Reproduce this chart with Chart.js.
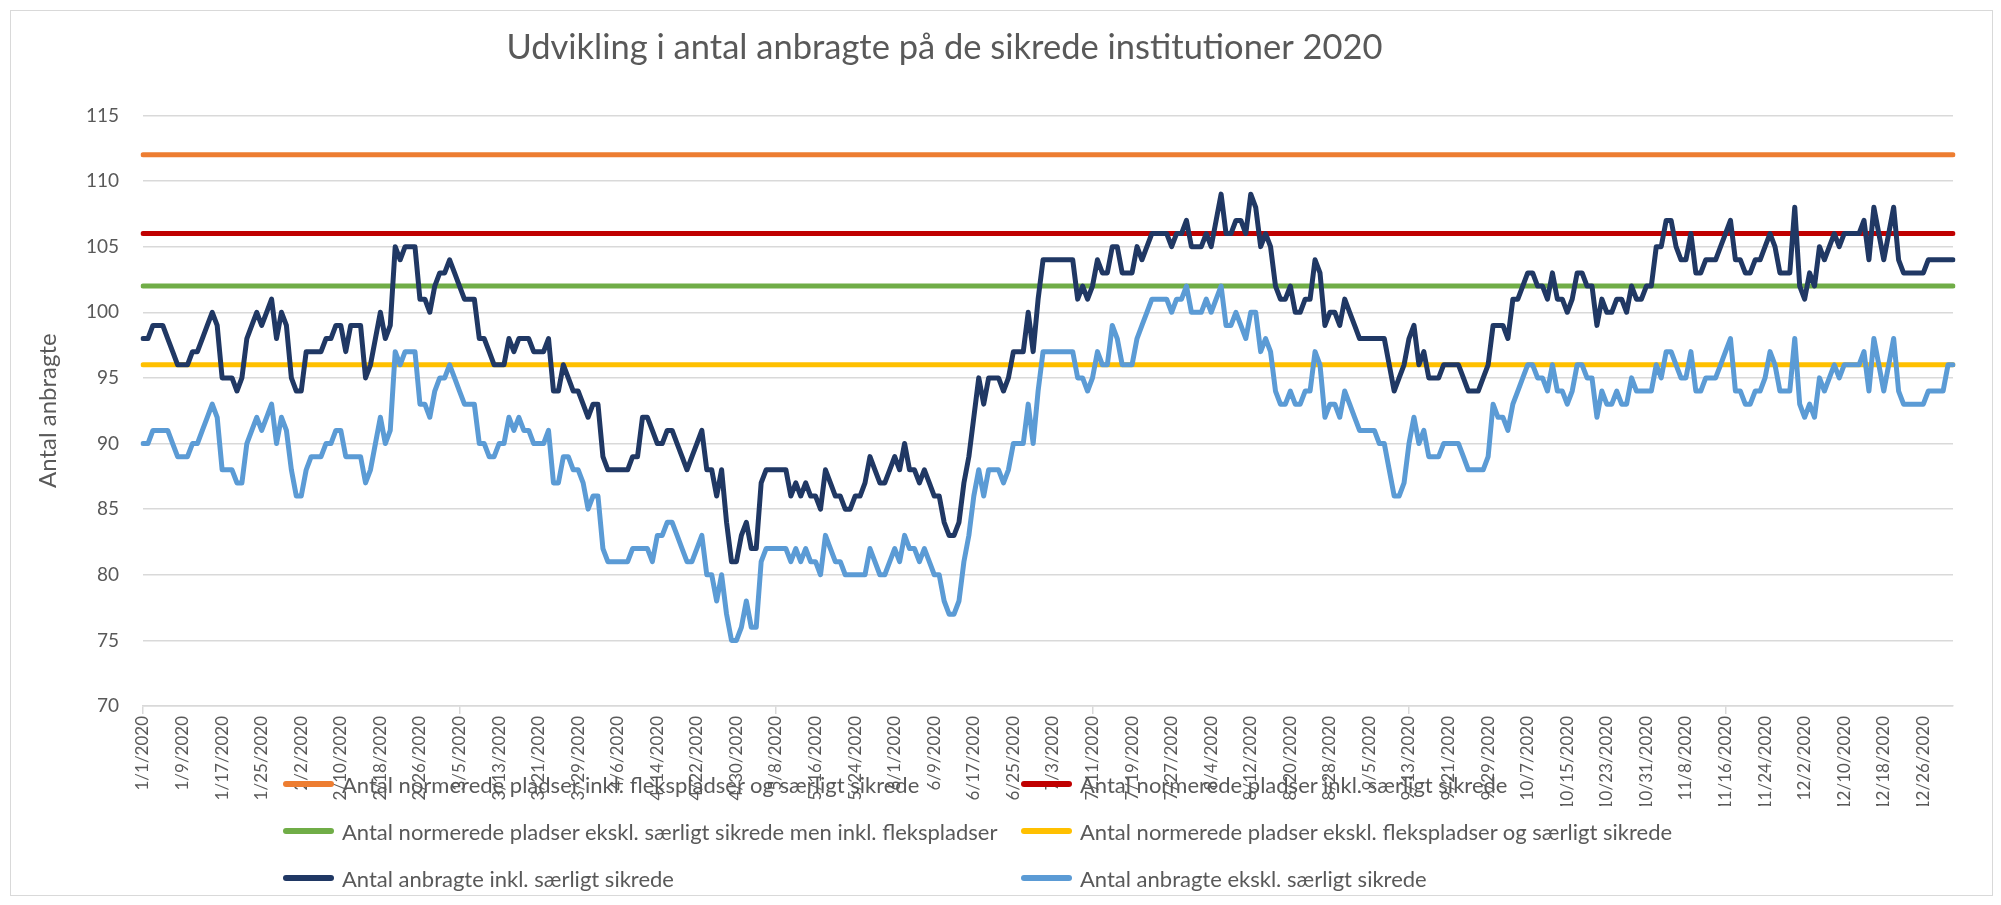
<!DOCTYPE html>
<html lang="da">
<head>
<meta charset="utf-8">
<title>Udvikling i antal anbragte 2020</title>
<script src="https://cdn.jsdelivr.net/npm/chart.js@4.4.1/dist/chart.umd.min.js"></script>
<style>
    body { margin: 0; background: #fff; }
    #wrap { position: relative; width: 2001px; height: 905px; }
    #frame { position: absolute; left: 10px; top: 10px; width: 1981px; height: 884px; border: 1px solid #d9d9d9; pointer-events: none; }
    .legend-item { position: absolute; display: flex; align-items: center; height: 28px; font: 22px Lato, sans-serif; color: #595959; white-space: nowrap; }
    .legend-swatch { width: 51px; height: 6px; border-radius: 3px; margin-right: 8px; }
</style>
</head>
<body>
<div id="wrap">
    <canvas id="chart" width="2001" height="905"></canvas>
    <div id="frame"></div>
    <div id="legend"></div>
</div>
<script>
// Daily categories: 1/1/2020 .. 1/1/2021
const dates = [];
for (let i = 0; i < 367; i++) {
    const d = new Date(2020, 0, 1 + i);
    dates.push((d.getMonth() + 1) + '/' + d.getDate() + '/' + d.getFullYear());
}

// Normerede pladser (capacity lines)
const capacityLabels = [
    'Antal normerede pladser inkl. flekspladser og særligt sikrede',
    'Antal normerede pladser inkl. særligt sikrede',
    'Antal normerede pladser ekskl. særligt sikrede men inkl. flekspladser',
    'Antal normerede pladser ekskl. flekspladser og særligt sikrede'
];
const capacityValues = [112, 106, 102, 96];
const capacityColors = ['#ED7D31', '#C00000', '#70AD47', '#FFC000'];

// Antal anbragte inkl. særligt sikrede
const anbragteInkl = [
    98, 98, 99, 99, 99, 98, 97, 96, 96, 96,
    97, 97, 98, 99, 100, 99, 95, 95, 95, 94,
    95, 98, 99, 100, 99, 100, 101, 98, 100, 99,
    95, 94, 94, 97, 97, 97, 97, 98, 98, 99,
    99, 97, 99, 99, 99, 95, 96, 98, 100, 98,
    99, 105, 104, 105, 105, 105, 101, 101, 100, 102,
    103, 103, 104, 103, 102, 101, 101, 101, 98, 98,
    97, 96, 96, 96, 98, 97, 98, 98, 98, 97,
    97, 97, 98, 94, 94, 96, 95, 94, 94, 93,
    92, 93, 93, 89, 88, 88, 88, 88, 88, 89,
    89, 92, 92, 91, 90, 90, 91, 91, 90, 89,
    88, 89, 90, 91, 88, 88, 86, 88, 84, 81,
    81, 83, 84, 82, 82, 87, 88, 88, 88, 88,
    88, 86, 87, 86, 87, 86, 86, 85, 88, 87,
    86, 86, 85, 85, 86, 86, 87, 89, 88, 87,
    87, 88, 89, 88, 90, 88, 88, 87, 88, 87,
    86, 86, 84, 83, 83, 84, 87, 89, 92, 95,
    93, 95, 95, 95, 94, 95, 97, 97, 97, 100,
    97, 101, 104, 104, 104, 104, 104, 104, 104, 101,
    102, 101, 102, 104, 103, 103, 105, 105, 103, 103,
    103, 105, 104, 105, 106, 106, 106, 106, 105, 106,
    106, 107, 105, 105, 105, 106, 105, 107, 109, 106,
    106, 107, 107, 106, 109, 108, 105, 106, 105, 102,
    101, 101, 102, 100, 100, 101, 101, 104, 103, 99,
    100, 100, 99, 101, 100, 99, 98, 98, 98, 98,
    98, 98, 96, 94, 95, 96, 98, 99, 96, 97,
    95, 95, 95, 96, 96, 96, 96, 95, 94, 94,
    94, 95, 96, 99, 99, 99, 98, 101, 101, 102,
    103, 103, 102, 102, 101, 103, 101, 101, 100, 101,
    103, 103, 102, 102, 99, 101, 100, 100, 101, 101,
    100, 102, 101, 101, 102, 102, 105, 105, 107, 107,
    105, 104, 104, 106, 103, 103, 104, 104, 104, 105,
    106, 107, 104, 104, 103, 103, 104, 104, 105, 106,
    105, 103, 103, 103, 108, 102, 101, 103, 102, 105,
    104, 105, 106, 105, 106, 106, 106, 106, 107, 104,
    108, 106, 104, 106, 108, 104, 103, 103, 103, 103,
    103, 104, 104, 104, 104, 104, 104
];

// Antal anbragte ekskl. særligt sikrede
const anbragteEkskl = [
    90, 90, 91, 91, 91, 91, 90, 89, 89, 89,
    90, 90, 91, 92, 93, 92, 88, 88, 88, 87,
    87, 90, 91, 92, 91, 92, 93, 90, 92, 91,
    88, 86, 86, 88, 89, 89, 89, 90, 90, 91,
    91, 89, 89, 89, 89, 87, 88, 90, 92, 90,
    91, 97, 96, 97, 97, 97, 93, 93, 92, 94,
    95, 95, 96, 95, 94, 93, 93, 93, 90, 90,
    89, 89, 90, 90, 92, 91, 92, 91, 91, 90,
    90, 90, 91, 87, 87, 89, 89, 88, 88, 87,
    85, 86, 86, 82, 81, 81, 81, 81, 81, 82,
    82, 82, 82, 81, 83, 83, 84, 84, 83, 82,
    81, 81, 82, 83, 80, 80, 78, 80, 77, 75,
    75, 76, 78, 76, 76, 81, 82, 82, 82, 82,
    82, 81, 82, 81, 82, 81, 81, 80, 83, 82,
    81, 81, 80, 80, 80, 80, 80, 82, 81, 80,
    80, 81, 82, 81, 83, 82, 82, 81, 82, 81,
    80, 80, 78, 77, 77, 78, 81, 83, 86, 88,
    86, 88, 88, 88, 87, 88, 90, 90, 90, 93,
    90, 94, 97, 97, 97, 97, 97, 97, 97, 95,
    95, 94, 95, 97, 96, 96, 99, 98, 96, 96,
    96, 98, 99, 100, 101, 101, 101, 101, 100, 101,
    101, 102, 100, 100, 100, 101, 100, 101, 102, 99,
    99, 100, 99, 98, 100, 100, 97, 98, 97, 94,
    93, 93, 94, 93, 93, 94, 94, 97, 96, 92,
    93, 93, 92, 94, 93, 92, 91, 91, 91, 91,
    90, 90, 88, 86, 86, 87, 90, 92, 90, 91,
    89, 89, 89, 90, 90, 90, 90, 89, 88, 88,
    88, 88, 89, 93, 92, 92, 91, 93, 94, 95,
    96, 96, 95, 95, 94, 96, 94, 94, 93, 94,
    96, 96, 95, 95, 92, 94, 93, 93, 94, 93,
    93, 95, 94, 94, 94, 94, 96, 95, 97, 97,
    96, 95, 95, 97, 94, 94, 95, 95, 95, 96,
    97, 98, 94, 94, 93, 93, 94, 94, 95, 97,
    96, 94, 94, 94, 98, 93, 92, 93, 92, 95,
    94, 95, 96, 95, 96, 96, 96, 96, 97, 94,
    98, 96, 94, 96, 98, 94, 93, 93, 93, 93,
    93, 94, 94, 94, 94, 96, 96
];

const yTicks = { min: 70, max: 115, step: 5 };
const labelEvery = 8;

const FONT = 'Lato';
const TEXT = '#595959';
const GRID = '#d9d9d9';

// Build datasets
const datasets = capacityValues.map((v, i) => ({
    label: capacityLabels[i],
    data: dates.map(() => v),
    borderColor: capacityColors[i]
}));
datasets.push({ label: 'Antal anbragte inkl. særligt sikrede', data: anbragteInkl, borderColor: '#203864' });
datasets.push({ label: 'Antal anbragte ekskl. særligt sikrede', data: anbragteEkskl, borderColor: '#5B9BD5' });
// later series drawn on top, like in the spreadsheet
datasets.forEach((ds, i) => { ds.order = datasets.length - i; });

// the original title sits a little left of the canvas centre
const titleShift = {
    id: 'titleShift',
    afterLayout(chart) {
        if (chart.titleBlock) {
            chart.titleBlock.left -= 32;
            chart.titleBlock.right -= 32;
        }
    }
};

const ctx = document.getElementById('chart').getContext('2d');
const chart = new Chart(ctx, {
    type: 'line',
    data: { labels: dates, datasets: datasets },
    plugins: [titleShift],
    options: {
        responsive: false,
        animation: false,
        layout: { padding: { left: 0, right: 48, top: 0, bottom: 99 } },
        elements: {
            point: { radius: 0 },
            line: { tension: 0, borderWidth: 5, borderCapStyle: 'round', borderJoinStyle: 'round' }
        },
        plugins: {
            legend: { display: false },
            tooltip: { enabled: false },
            title: {
                display: true,
                text: 'Udvikling i antal anbragte på de sikrede institutioner 2020',
                color: TEXT,
                font: { family: FONT, size: 34.5, weight: 'normal' },
                padding: { top: 27, bottom: 47 }
            }
        },
        scales: {
            x: {
                grid: {
                    drawOnChartArea: false,
                    drawTicks: true,
                    tickLength: 8,
                    lineWidth: 1.5,
                    color: c => (c.index % labelEvery === 0 ? GRID : 'rgba(0,0,0,0)')
                },
                border: { color: GRID, width: 1.5 },
                ticks: {
                    autoSkip: false,
                    minRotation: 90,
                    maxRotation: 90,
                    padding: 2,
                    color: TEXT,
                    font: { family: FONT, size: 17 },
                    callback: (v, i) => (i % labelEvery === 0 ? dates[i] : null)
                },
                afterFit: s => { s.height = 100; }
            },
            y: {
                min: yTicks.min,
                max: yTicks.max,
                ticks: { stepSize: yTicks.step, padding: 24, color: TEXT, font: { family: FONT, size: 19 } },
                grid: { color: GRID, lineWidth: 1.5, drawTicks: false },
                border: { display: false },
                title: {
                    display: true,
                    text: 'Antal anbragte',
                    color: TEXT,
                    font: { family: FONT, size: 24 },
                    padding: { top: 34, bottom: 0 }
                },
                afterFit: s => { s.width = 143; }
            }
        }
    }
});

// Legend drawn over the axis labels, as in the original
const legend = document.getElementById('legend');
const legendCols = [283, 1021];
const legendRows = [784, 831, 878];
chart.data.datasets.forEach((ds, i) => {
    const item = document.createElement('div');
    item.className = 'legend-item';
    item.style.left = legendCols[i % 2] + 'px';
    item.style.top = (legendRows[Math.floor(i / 2)] - 14) + 'px';
    const sw = document.createElement('span');
    sw.className = 'legend-swatch';
    sw.style.background = ds.borderColor;
    const txt = document.createElement('span');
    txt.textContent = ds.label;
    item.appendChild(sw);
    item.appendChild(txt);
    legend.appendChild(item);
});
</script>
</body>
</html>
